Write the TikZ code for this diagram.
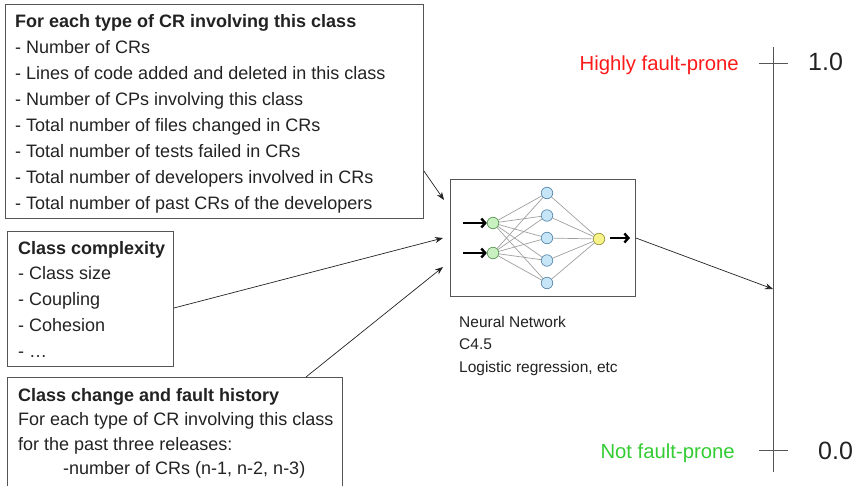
\documentclass[tikz,border=0pt]{standalone}
\usepackage{fontspec}
\setmainfont{Liberation Sans}
\usetikzlibrary{arrows.meta}
\definecolor{txt}{HTML}{222222}
\definecolor{frame}{HTML}{555555}
\definecolor{hired}{HTML}{FF1A1A}
\definecolor{lowgreen}{HTML}{33CC33}
\definecolor{ingreen}{HTML}{C8F0C0}
\definecolor{inedge}{HTML}{5E9A56}
\definecolor{hidblue}{HTML}{C6E6F7}
\definecolor{hidedge}{HTML}{5A8AAE}
\definecolor{outyel}{HTML}{F7F38A}
\definecolor{outedge}{HTML}{9A9A3A}
\tikzset{
  boxframe/.style={draw=frame, line width=0.9pt, anchor=north west, inner sep=0pt},
  boxtext/.style={align=left, anchor=north west, inner sep=0pt, text=txt,
    font=\fontsize{18}{26}\selectfont},
  feed/.style={draw=txt, line width=0.7pt, -{Stealth[length=8pt,width=6pt]}},
  neuron/.style={circle, draw, line width=0.7pt, minimum size=11.5pt, inner sep=0pt},
  link/.style={draw=gray!75, line width=0.7pt},
  bigarrow/.style={draw=black, line width=2.4pt, -{Straight Barb[length=4pt,width=9pt]}},
  tick/.style={draw=frame, line width=0.9pt},
  lbl/.style={font=\fontsize{20.3}{22}\selectfont},
  small/.style={font=\fontsize{15.5}{22.5}\selectfont, text=txt, align=left, anchor=north west, inner sep=0pt}
}
\newcommand{\firststrut}{\rule{0pt}{20pt}}
\begin{document}
\begin{tikzpicture}[x=1pt,y=-1pt]
\useasboundingbox (0,0) rectangle (857,485);
% box 1
\node[boxframe, minimum width=418pt, minimum height=214pt] (b1) at (5,4) {};
\node[boxtext] (b1t) at (15,7.5) {\firststrut
\textbf{For each type of CR involving this class}\\
- Number of CRs\\
- Lines of code added and deleted in this class\\
- Number of CPs involving this class\\
- Total number of files changed in CRs\\
- Total number of tests failed in CRs\\
- Total number of developers involved in CRs\\
- Total number of past CRs of the developers};
% box 2
\node[boxframe, minimum width=166pt, minimum height=135pt] (b2) at (7,231) {};
\node[boxtext, font=\fontsize{18}{25.7}\selectfont] (b2t) at (18,234) {\firststrut
\textbf{Class complexity}\\
- Class size\\
- Coupling\\
- Cohesion\\
- \dots};
% box 3
\node[boxframe, minimum width=335pt, minimum height=122pt] (b3) at (7,377) {};
\node[boxtext, font=\fontsize{18}{24.4}\selectfont] (b3t) at (18,381) {\firststrut
\textbf{Class change and fault history}\\
For each type of CR involving this class\\
for the past three releases:\\
\hspace*{45pt}-number of CRs (n-1, n-2, n-3)};
% neural network box
\node[boxframe, minimum width=185pt, minimum height=117pt] (nn) at (450,179) {};
\node[neuron, fill=ingreen, draw=inedge] (i1) at (493,223) {};
\node[neuron, fill=ingreen, draw=inedge] (i2) at (493,253) {};
\foreach \k/\y in {1/193,2/215.5,3/238,4/260.5,5/283}{
  \node[neuron, fill=hidblue, draw=hidedge] (h\k) at (547,\y) {};
}
\node[neuron, fill=outyel, draw=outedge] (o) at (599,239) {};
\foreach \k in {1,...,5}{
  \draw[link] (i1) -- (h\k);
  \draw[link] (i2) -- (h\k);
  \draw[link] (h\k) -- (o);
}
\coordinate (a1s) at (463,223);
\coordinate (a2s) at (463,253);
\coordinate (aos) at (610,238);
\coordinate (aoe) at (630,238);
\draw[bigarrow] (a1s) -- (i1.west);
\draw[bigarrow] (a2s) -- (i2.west);
\draw[bigarrow] (aos) -- (aoe);
% labels under NN
\node[small] (nnl) at (459,316) {Neural Network\\C4.5\\Logistic regression, etc};
% feeding arrows
\coordinate (e1) at (444,200);
\coordinate (e2) at (443,238);
\coordinate (e3) at (443,267);
\draw[feed] (b1.east |- 0,171) -- (e1);
\draw[feed] (b2.east |- 0,308) -- (e2);
\draw[feed] (b3.north -| 306,0) -- (e3);
% axis
\coordinate (axtop) at (773,47);
\coordinate (axbot) at (773,472);
\coordinate (axmid) at (773,289);
\draw[tick] (axtop) -- (axbot);
\coordinate (t1l) at (759,63); \coordinate (t1r) at (788,63);
\coordinate (t0l) at (759,450); \coordinate (t0r) at (788,450);
\draw[tick] (t1l) -- (t1r);
\draw[tick] (t0l) -- (t0r);
\draw[feed] (nn.east |- 0,238) -- (axmid);
\node[text=txt, font=\fontsize{25}{27}\selectfont, anchor=west, inner sep=0pt] (v1) at (808,62) {1.0};
\node[text=txt, font=\fontsize{25}{27}\selectfont, anchor=west, inner sep=0pt] (v0) at (818,451) {0.0};
\node[lbl, text=hired, anchor=east, inner sep=0pt] (hi) at (739,65) {Highly fault-prone};
\node[lbl, text=lowgreen, anchor=east, inner sep=0pt] (lo) at (735,453) {Not fault-prone};
\end{tikzpicture}
\end{document}
